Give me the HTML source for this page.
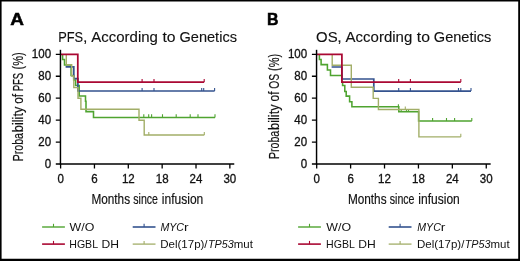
<!DOCTYPE html>
<html lang="en">
<head>
<meta charset="utf-8">
<title>Survival according to genetics</title>
<style>
html,body{margin:0;padding:0;background:#fff;}
body{width:520px;height:261px;overflow:hidden;position:relative;}
svg{position:absolute;left:0;top:0;display:block;}
text{font-family:"Liberation Sans",sans-serif;fill:#111;stroke:#111;stroke-width:0.3px;white-space:pre;}
.pl{font-weight:bold;font-size:16.8px;fill:#000;stroke:#000;stroke-width:0.5px;}
.ti{font-size:14.0px;stroke-width:0.12px;}
.tk{font-size:11.85px;}
.ax{font-size:15.0px;stroke-width:0.18px;}
.lg{font-size:11.5px;stroke:none;}
</style>
</head>
<body>
<svg width="520" height="261" viewBox="0 0 520 261" role="img" aria-label="Kaplan-Meier curves of PFS and OS according to genetics">
<rect x="0" y="0" width="520" height="261" fill="#fff"/>
<text class="pl" x="10.3" y="25" textLength="13.7" lengthAdjust="spacingAndGlyphs">A</text>
<text class="pl" x="266.9" y="25" textLength="11.5" lengthAdjust="spacingAndGlyphs">B</text>
<g>
<path d="M62.6,54.8V59.4H64.5V65H71.1V75.5H73.7V80H75.6V85.5H79.2V95.9H85.5V101.2H86V111.6H93.5V117.4H215" fill="none" stroke="#4fa430" stroke-width="1.55" stroke-linejoin="miter"/>
<path d="M143.8,117.4v-3.1M148.7,117.4v-3.1M151.6,117.4v-3.1M162.5,117.4v-3.1M176.2,117.4v-3.1M190.2,117.4v-3.1M198,117.4v-3.1M215,117.4v-3.1" fill="none" stroke="#4fa430" stroke-width="1.1"/>
<path d="M65.6,66.9H73.8V78.7H77.9V91.0H214.6" fill="none" stroke="#34538f" stroke-width="1.7" stroke-linejoin="miter"/>
<path d="M142.1,91.0v-3.1M154,91.0v-3.1M201.7,91.0v-3.1M203.7,91.0v-3.1M214.6,91.0v-3.1" fill="none" stroke="#34538f" stroke-width="1.1"/>
<path d="M66.3,54.8V64.7H71.7V76H73.8V87.6H78.0V98.2H80.9V109.3H139V120.3H144.2V135.0H204.3" fill="none" stroke="#a2ae68" stroke-width="1.4" stroke-linejoin="miter"/>
<path d="M148.8,135.0v-3.1M204.3,135.0v-3.1" fill="none" stroke="#a2ae68" stroke-width="1.1"/>
<path d="M61,54.3H77.8V82.0H204.2" fill="none" stroke="#aa0833" stroke-width="1.75" stroke-linejoin="miter"/>
<path d="M142.1,82.0v-3.1M154,82.0v-3.1M204.2,82.0v-3.1" fill="none" stroke="#aa0833" stroke-width="1.1"/>
<path d="M60.45,49.8V164.7" stroke="#000" stroke-width="1.45" fill="none"/>
<path d="M59.9,164H234.26" stroke="#000" stroke-width="1.5" fill="none"/>
<path d="M55.800000000000004,164.00H60.6M55.800000000000004,142.06H60.6M55.800000000000004,120.12H60.6M55.800000000000004,98.18H60.6M55.800000000000004,76.24H60.6M55.800000000000004,54.30H60.6M60.60,164V168.5M94.45,164V168.5M128.30,164V168.5M162.16,164V168.5M196.01,164V168.5M229.86,164V168.5" stroke="#000" stroke-width="1.3" fill="none"/>
<text class="tk" x="44.68" y="168" textLength="6.42" lengthAdjust="spacingAndGlyphs">0</text>
<text class="tk" x="38.26" y="146" textLength="12.84" lengthAdjust="spacingAndGlyphs">20</text>
<text class="tk" x="38.26" y="124" textLength="12.84" lengthAdjust="spacingAndGlyphs">40</text>
<text class="tk" x="38.26" y="102" textLength="12.84" lengthAdjust="spacingAndGlyphs">60</text>
<text class="tk" x="38.26" y="80" textLength="12.84" lengthAdjust="spacingAndGlyphs">80</text>
<text class="tk" x="31.84" y="58" textLength="19.26" lengthAdjust="spacingAndGlyphs">100</text>
<text class="tk" x="57.39" y="183" textLength="6.42" lengthAdjust="spacingAndGlyphs">0</text>
<text class="tk" x="91.24" y="183" textLength="6.42" lengthAdjust="spacingAndGlyphs">6</text>
<text class="tk" x="121.88" y="183" textLength="12.84" lengthAdjust="spacingAndGlyphs">12</text>
<text class="tk" x="155.74" y="183" textLength="12.84" lengthAdjust="spacingAndGlyphs">18</text>
<text class="tk" x="189.59" y="183" textLength="12.84" lengthAdjust="spacingAndGlyphs">24</text>
<text class="tk" x="223.44" y="183" textLength="12.84" lengthAdjust="spacingAndGlyphs">30</text>
<text class="ti" y="42"><tspan x="58.20" textLength="24.94" lengthAdjust="spacingAndGlyphs">PFS</tspan><tspan x="83.05" textLength="8.89" lengthAdjust="spacingAndGlyphs">, </tspan><tspan x="91.30" textLength="70.81" lengthAdjust="spacingAndGlyphs">According </tspan><tspan x="162.50" textLength="17.52" lengthAdjust="spacingAndGlyphs">to </tspan><tspan x="179.52" textLength="57.44" lengthAdjust="spacingAndGlyphs">Genetics</tspan></text>
<text class="ax" y="204"><tspan x="91.38" textLength="41.97" lengthAdjust="spacingAndGlyphs">Months </tspan><tspan x="133.23" textLength="27.75" lengthAdjust="spacingAndGlyphs">since </tspan><tspan x="161.85" textLength="41.43" lengthAdjust="spacingAndGlyphs">infusion</tspan></text>
<text class="ax" transform="translate(23.2,160.5) rotate(-90)" y="0"><tspan x="-0.83" textLength="28.26" lengthAdjust="spacingAndGlyphs">Proba</tspan><tspan x="28.30" textLength="29.04" lengthAdjust="spacingAndGlyphs">bility </tspan><tspan x="56.73" textLength="13.24" lengthAdjust="spacingAndGlyphs">of </tspan><tspan x="69.26" textLength="21.07" lengthAdjust="spacingAndGlyphs">PFS </tspan><tspan x="91.09" textLength="16.98" lengthAdjust="spacingAndGlyphs">(%)</tspan></text>
</g>
<g>
<path d="M319.4,54.8V59.5H321.1V64.6H327.4V70H330.5V75.4H341.9V82H342.6V85.4H344.8V91.5H346.2V96.1H349.6V101.7H351.9V106.8H398.8V111.7H418.6V121.0H471.8" fill="none" stroke="#4fa430" stroke-width="1.55" stroke-linejoin="miter"/>
<path d="M401.2,111.7v-2.6M406.5,111.7v-2.6M408.5,111.7v-2.6M398.4,106.8v-2.6M432.6,121.0v-3.1M446.5,121.0v-3.1M454.6,121.0v-3.1M471.8,121.0v-3.1" fill="none" stroke="#4fa430" stroke-width="1.1"/>
<path d="M331.6,67H341.9V79H373.8V91.1H471" fill="none" stroke="#34538f" stroke-width="1.7" stroke-linejoin="miter"/>
<path d="M398.7,91.1v-3.1M410.4,91.1v-3.1M458.5,91.1v-3.1M460.8,91.1v-3.1M471,91.1v-3.1" fill="none" stroke="#34538f" stroke-width="1.1"/>
<path d="M332.2,54.8V65.3H351.3V87.3H373.2V98.4H378.4V109.5H418.9V136.9H460.8" fill="none" stroke="#a2ae68" stroke-width="1.4" stroke-linejoin="miter"/>
<path d="M405.3,109.5v-3.1M460.8,136.9v-3.1" fill="none" stroke="#a2ae68" stroke-width="1.1"/>
<path d="M317,54.3H341.9V82.0H460.8" fill="none" stroke="#aa0833" stroke-width="1.75" stroke-linejoin="miter"/>
<path d="M398.7,82.0v-3.1M410.4,82.0v-3.1M460.8,82.0v-3.1" fill="none" stroke="#aa0833" stroke-width="1.1"/>
<path d="M316.55,49.8V164.7" stroke="#000" stroke-width="1.45" fill="none"/>
<path d="M316.0,164H490.66" stroke="#000" stroke-width="1.5" fill="none"/>
<path d="M311.9,164.00H316.7M311.9,142.06H316.7M311.9,120.12H316.7M311.9,98.18H316.7M311.9,76.24H316.7M311.9,54.30H316.7M316.70,164V168.5M350.61,164V168.5M384.52,164V168.5M418.44,164V168.5M452.35,164V168.5M486.26,164V168.5" stroke="#000" stroke-width="1.3" fill="none"/>
<text class="tk" x="300.78" y="168" textLength="6.42" lengthAdjust="spacingAndGlyphs">0</text>
<text class="tk" x="294.36" y="146" textLength="12.84" lengthAdjust="spacingAndGlyphs">20</text>
<text class="tk" x="294.36" y="124" textLength="12.84" lengthAdjust="spacingAndGlyphs">40</text>
<text class="tk" x="294.36" y="102" textLength="12.84" lengthAdjust="spacingAndGlyphs">60</text>
<text class="tk" x="294.36" y="80" textLength="12.84" lengthAdjust="spacingAndGlyphs">80</text>
<text class="tk" x="287.94" y="58" textLength="19.26" lengthAdjust="spacingAndGlyphs">100</text>
<text class="tk" x="313.49" y="183" textLength="6.42" lengthAdjust="spacingAndGlyphs">0</text>
<text class="tk" x="347.40" y="183" textLength="6.42" lengthAdjust="spacingAndGlyphs">6</text>
<text class="tk" x="378.10" y="183" textLength="12.84" lengthAdjust="spacingAndGlyphs">12</text>
<text class="tk" x="412.02" y="183" textLength="12.84" lengthAdjust="spacingAndGlyphs">18</text>
<text class="tk" x="445.93" y="183" textLength="12.84" lengthAdjust="spacingAndGlyphs">24</text>
<text class="tk" x="479.84" y="183" textLength="12.84" lengthAdjust="spacingAndGlyphs">30</text>
<text class="ti" y="42"><tspan x="316.10" textLength="21.52" lengthAdjust="spacingAndGlyphs">OS</tspan><tspan x="337.35" textLength="8.89" lengthAdjust="spacingAndGlyphs">, </tspan><tspan x="345.60" textLength="70.81" lengthAdjust="spacingAndGlyphs">According </tspan><tspan x="416.80" textLength="17.52" lengthAdjust="spacingAndGlyphs">to </tspan><tspan x="433.82" textLength="57.44" lengthAdjust="spacingAndGlyphs">Genetics</tspan></text>
<text class="ax" y="204"><tspan x="347.88" textLength="41.97" lengthAdjust="spacingAndGlyphs">Months </tspan><tspan x="389.73" textLength="27.75" lengthAdjust="spacingAndGlyphs">since </tspan><tspan x="418.35" textLength="41.43" lengthAdjust="spacingAndGlyphs">infusion</tspan></text>
<text class="ax" transform="translate(279.3,158.2) rotate(-90)" y="0"><tspan x="-0.83" textLength="28.26" lengthAdjust="spacingAndGlyphs">Proba</tspan><tspan x="28.30" textLength="29.04" lengthAdjust="spacingAndGlyphs">bility </tspan><tspan x="56.73" textLength="13.24" lengthAdjust="spacingAndGlyphs">of </tspan><tspan x="69.52" textLength="17.53" lengthAdjust="spacingAndGlyphs">OS </tspan><tspan x="87.29" textLength="16.98" lengthAdjust="spacingAndGlyphs">(%)</tspan></text>
</g>
<path d="M42.10,227.0h22.8" stroke="#4fa430" stroke-width="1.4" fill="none"/><path d="M53.50,227.0v-3.2" stroke="#4fa430" stroke-width="1.1" fill="none"/>
<text class="lg" y="231"><tspan x="69.55" textLength="24.74" lengthAdjust="spacingAndGlyphs">W/O</tspan></text>
<path d="M42.10,244.1h22.8" stroke="#aa0833" stroke-width="1.6" fill="none"/><path d="M53.50,244.1v-3.2" stroke="#aa0833" stroke-width="1.1" fill="none"/>
<text class="lg" y="248"><tspan x="69.28" textLength="31.33" lengthAdjust="spacingAndGlyphs">HGBL </tspan><tspan x="101.45" textLength="17.50" lengthAdjust="spacingAndGlyphs">DH</tspan></text>
<path d="M132.70,227.0h22.8" stroke="#34538f" stroke-width="1.6" fill="none"/><path d="M144.10,227.0v-3.2" stroke="#34538f" stroke-width="1.1" fill="none"/>
<text class="lg" y="231"><tspan font-style="italic" x="160.38" textLength="23.64" lengthAdjust="spacingAndGlyphs">MYC</tspan><tspan x="183.99" textLength="4.62" lengthAdjust="spacingAndGlyphs">r</tspan></text>
<path d="M132.70,244.1h22.8" stroke="#a2ae68" stroke-width="1.3" fill="none"/><path d="M144.10,244.1v-3.2" stroke="#a2ae68" stroke-width="1.1" fill="none"/>
<text class="lg" y="248"><tspan x="160.20" textLength="47.40" lengthAdjust="spacingAndGlyphs">Del(17p)/</tspan><tspan font-style="italic" x="207.96" textLength="25.83" lengthAdjust="spacingAndGlyphs">TP53</tspan><tspan x="233.75" textLength="19.09" lengthAdjust="spacingAndGlyphs">mut</tspan></text>
<path d="M298.10,227.0h22.8" stroke="#4fa430" stroke-width="1.4" fill="none"/><path d="M309.50,227.0v-3.2" stroke="#4fa430" stroke-width="1.1" fill="none"/>
<text class="lg" y="231"><tspan x="326.35" textLength="24.74" lengthAdjust="spacingAndGlyphs">W/O</tspan></text>
<path d="M298.10,244.1h22.8" stroke="#aa0833" stroke-width="1.6" fill="none"/><path d="M309.50,244.1v-3.2" stroke="#aa0833" stroke-width="1.1" fill="none"/>
<text class="lg" y="248"><tspan x="326.08" textLength="31.33" lengthAdjust="spacingAndGlyphs">HGBL </tspan><tspan x="358.25" textLength="17.50" lengthAdjust="spacingAndGlyphs">DH</tspan></text>
<path d="M388.70,227.0h22.8" stroke="#34538f" stroke-width="1.6" fill="none"/><path d="M400.10,227.0v-3.2" stroke="#34538f" stroke-width="1.1" fill="none"/>
<text class="lg" y="231"><tspan font-style="italic" x="417.18" textLength="23.64" lengthAdjust="spacingAndGlyphs">MYC</tspan><tspan x="440.79" textLength="4.62" lengthAdjust="spacingAndGlyphs">r</tspan></text>
<path d="M388.70,244.1h22.8" stroke="#a2ae68" stroke-width="1.3" fill="none"/><path d="M400.10,244.1v-3.2" stroke="#a2ae68" stroke-width="1.1" fill="none"/>
<text class="lg" y="248"><tspan x="417.00" textLength="47.40" lengthAdjust="spacingAndGlyphs">Del(17p)/</tspan><tspan font-style="italic" x="464.76" textLength="25.83" lengthAdjust="spacingAndGlyphs">TP53</tspan><tspan x="490.55" textLength="19.09" lengthAdjust="spacingAndGlyphs">mut</tspan></text>
<path d="M0,0.8H520" stroke="#000" stroke-width="1.6" fill="none"/>
<path d="M0,259.9H520" stroke="#000" stroke-width="2.2" fill="none"/>
<path d="M0.8,0V261" stroke="#000" stroke-width="1.6" fill="none"/>
<path d="M519.1,0V261" stroke="#000" stroke-width="1.8" fill="none"/>
</svg>
</body>
</html>
